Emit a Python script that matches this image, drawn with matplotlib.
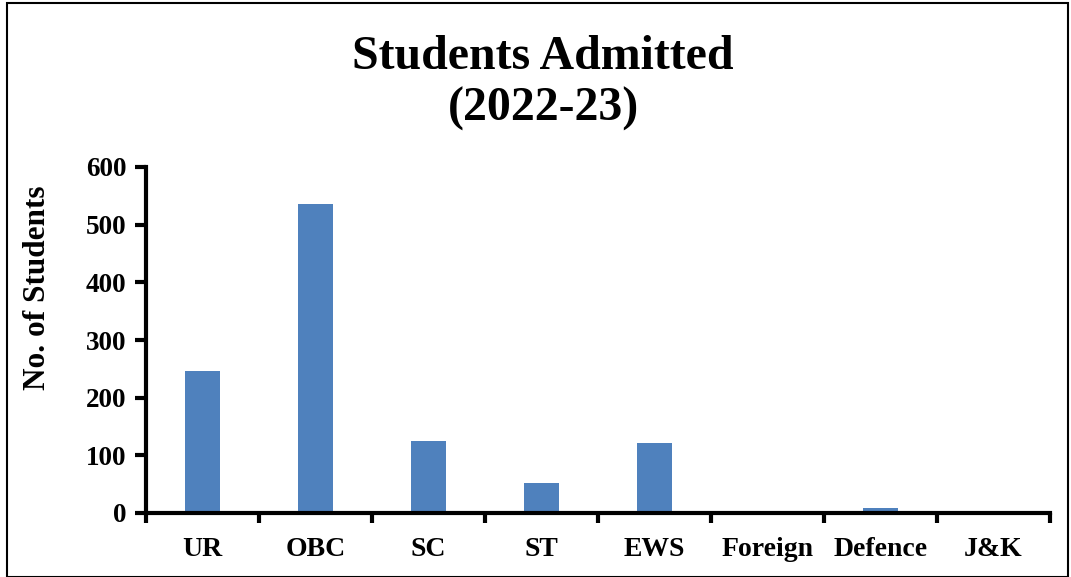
import matplotlib
matplotlib.use("Agg")
import matplotlib.pyplot as plt
import numpy as np
from matplotlib.patches import Rectangle

categories = ["UR", "OBC", "SC", "ST", "EWS", "Foreign", "Defence", "J&K"]
students = [246, 536, 124, 52, 122, 0, 8, 0]
y_ticks = [0, 100, 200, 300, 400, 500, 600]

plt.rcParams['font.family'] = ['Liberation Serif', 'DejaVu Serif']
plt.rcParams['font.weight'] = 'bold'

fig = plt.figure(figsize=(10.71, 5.77), dpi=100)
ax = fig.add_axes([146/1071, 1 - 513/577, (1050-146)/1071, (513-167)/577])

x = np.arange(len(categories))
ax.bar(x, students, width=0.31, color="#4f81bd", zorder=2)

ax.set_xlim(-0.5, len(categories) - 0.5)
ax.set_ylim(0, 600)
ax.set_yticks(y_ticks)
ax.set_yticklabels([str(v) for v in y_ticks], fontsize=19.5, fontweight='bold')

# category labels centred, ticks on the boundaries
ax.set_xticks(x)
ax.set_xticklabels(categories, fontsize=20, fontweight='bold')
ax.tick_params(axis='x', which='major', length=0, pad=17)
ax.set_xticks(np.arange(len(categories) + 1) - 0.5, minor=True)
ax.tick_params(axis='x', which='minor', length=7, width=3, direction='out')
ax.tick_params(axis='y', length=8, width=3, direction='out', pad=6)

for s in ['top', 'right']:
    ax.spines[s].set_visible(False)
for s in ['left', 'bottom']:
    ax.spines[s].set_linewidth(3)

fig.text(38/1071, 1 - 288/577, "No. of Students", rotation=90, ha='center', va='center',
         fontsize=22.5, fontweight='bold')

fig.text(543/1071, 1 - 83/577, "Students Admitted\n(2022-23)", ha='center', va='center',
         fontsize=34.5, fontweight='bold', linespacing=1.22)

# outer border
fig.add_artist(Rectangle((7/1071, 0), (1068-7)/1071, 1 - 3/577, transform=fig.transFigure,
                         fill=False, edgecolor='black', linewidth=1.5))

fig.savefig("out.png", dpi=100)
